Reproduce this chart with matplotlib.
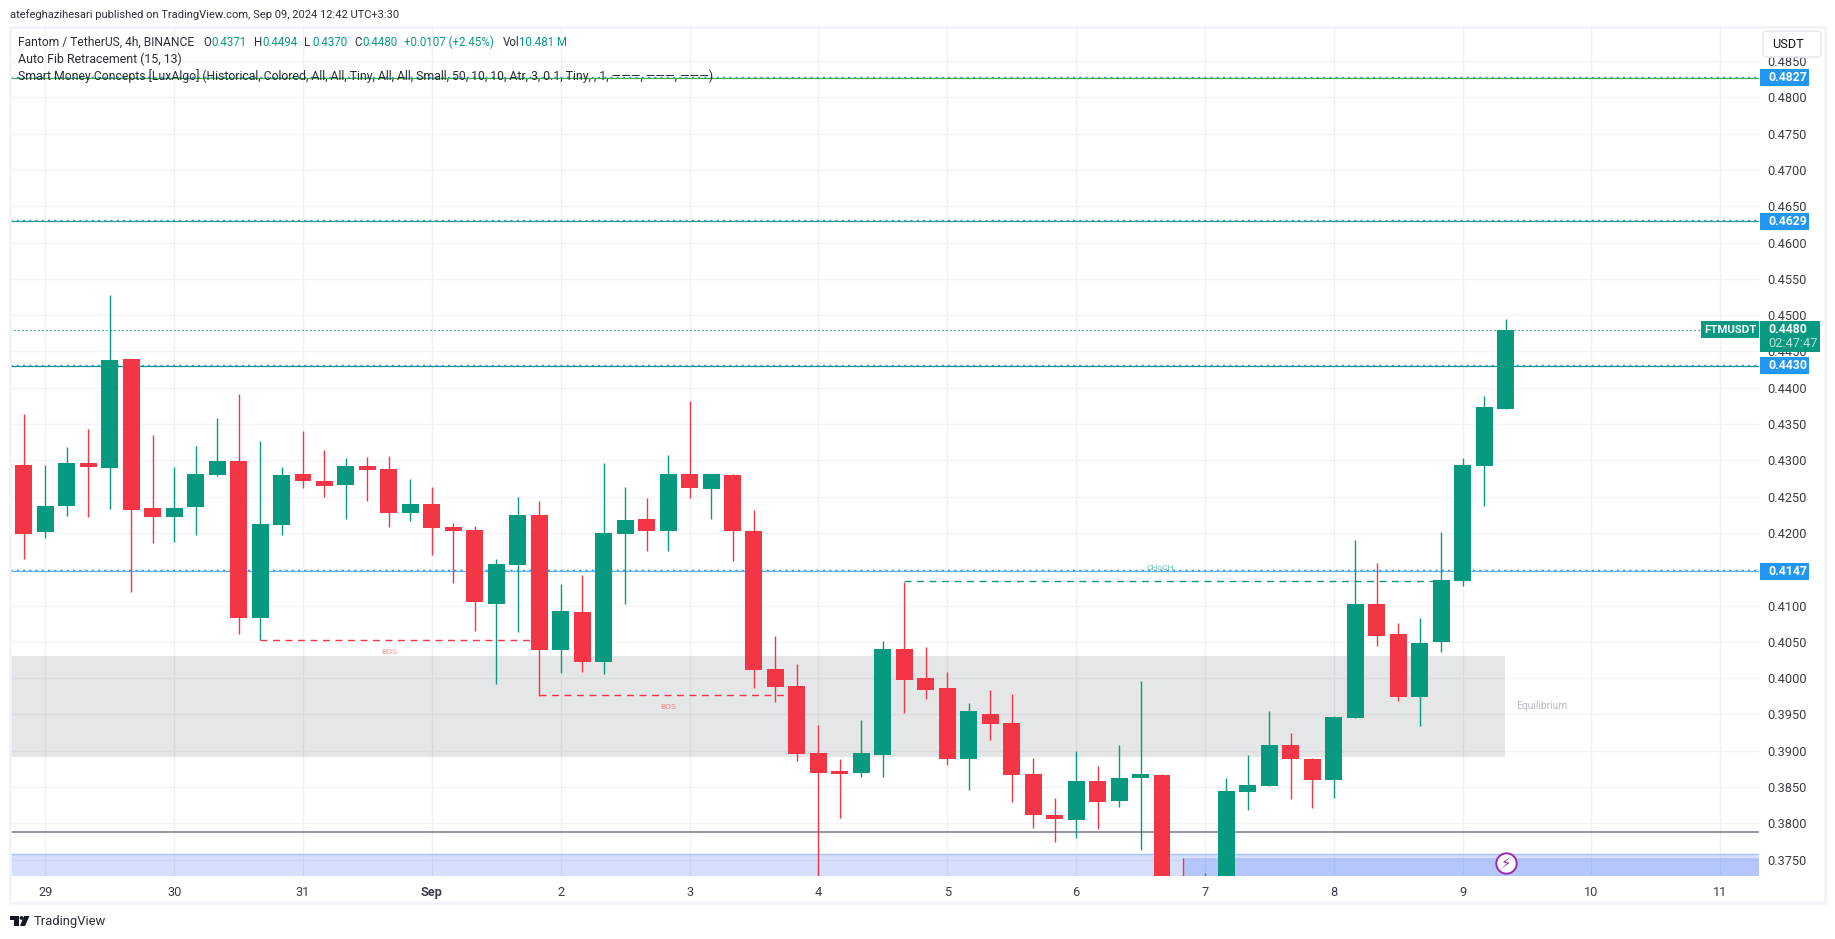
import matplotlib
matplotlib.use('Agg')
import matplotlib.pyplot as plt
from matplotlib.patches import Rectangle, FancyBboxPatch, Circle, Polygon

plt.rcParams['font.family'] = ['Roboto', 'DejaVu Sans']

# Candles (4h)
abrir = [.4294, .4201, .4237, .4296, .4289, .4440, .4234, .4222, .4236, .4280,
         .4299, .4083, .4211, .4281, .4271, .4266, .4292, .4288, .4227, .4240,
         .4208, .4204, .4102, .4156, .4225, .4039, .4091, .4022, .4199, .4219,
         .4203, .4281, .4261, .4280, .4203, .4013, .3989, .3897, .3872, .3869,
         .3894, .4040, .4000, .3986, .3889, .3951, .3938, .3868, .3811, .3805,
         .3858, .3831, .3862, .3867, .3660, .3630, .3680, .3843, .3852, .3908,
         .3889, .3860, .3945, .4102, .4061, .3974, .4050, .4134, .4292, .4371]
maximo = [.4364, .4294, .4318, .4343, .4528, .4440, .4335, .4291, .4320, .4358,
          .4391, .4327, .4291, .4340, .4314, .4303, .4305, .4306, .4274, .4263,
          .4214, .4210, .4164, .4249, .4244, .4130, .4142, .4296, .4263, .4248,
          .4307, .4382, .4281, .4281, .4232, .4058, .4019, .3935, .3889, .3942,
          .4051, .4133, .4043, .4008, .3966, .3984, .3978, .3890, .3835, .3900,
          .3879, .3908, .3996, .3868, .3752, .3732, .3863, .3894, .3955, .3924,
          .3890, .3948, .4190, .4159, .4076, .4083, .4201, .4303, .4388, .4494]
minimo = [.4164, .4193, .4223, .4222, .4233, .4119, .4186, .4187, .4197, .4278,
          .4061, .4052, .4197, .4262, .4249, .4219, .4244, .4208, .4216, .4170,
          .4131, .4065, .3992, .4064, .3976, .4007, .4008, .4006, .4102, .4175,
          .4175, .4248, .4219, .4161, .3986, .3967, .3886, .3700, .3807, .3864,
          .3864, .3952, .3971, .3880, .3846, .3915, .3829, .3794, .3774, .3780,
          .3792, .3822, .3763, .3640, .3610, .3600, .3660, .3818, .3852, .3834,
          .3821, .3835, .3945, .4044, .3969, .3934, .4036, .4127, .4237, .4370]
fechar = [.4198, .4237, .4296, .4291, .4438, .4232, .4222, .4234, .4281, .4299,
          .4083, .4212, .4280, .4271, .4265, .4292, .4287, .4227, .4240, .4207,
          .4203, .4105, .4157, .4225, .4039, .4092, .4022, .4200, .4218, .4203,
          .4281, .4262, .4281, .4203, .4011, .3988, .3895, .3869, .3868, .3897,
          .4040, .3997, .3984, .3889, .3955, .3937, .3867, .3811, .3806, .3858,
          .3829, .3862, .3868, .3660, .3630, .3680, .3845, .3853, .3908, .3889,
          .3860, .3946, .4102, .4058, .3974, .4049, .4135, .4294, .4373, .4480]

# Axis labels
dias_idx = [1, 7, 13, 19, 25, 31, 37, 43, 49, 55, 61, 67, 73, 79]
dias_txt = ['29', '30', '31', 'Sep', '2', '3', '4', '5', '6', '7', '8', '9', '10', '11']
precos = [.3750, .3800, .3850, .3900, .3950, .4000, .4050, .4100, .4150, .4200, .4250, .4300,
          .4350, .4400, .4450, .4500, .4550, .4600, .4650, .4700, .4750, .4800, .4850]
precos_txt = [f'{p:.4f}' for p in precos]

# Levels
niveis_fib = [.4827, .4629, .4430, .4147]
cores_fib = ['#4caf50', '#2e9e7a', '#138f8f', '#64b5f6']
ultimo = .4480
linha_cinza = .37875
equilibrio = (.38913, .40304)
zona_azul_topo = .37577
zona_azul2_topo = .37522
zona_azul2_idx = 54

# Structure breaks (start, end, price)
bos1 = (11, 24, .40520)
bos2 = (24, 36, .39763)
choch = (41, 66, .41332)

VERDE = '#089981'
VERMELHO = '#f23645'
AZUL = '#2196f3'
W, H = 1835, 939

fig = plt.figure(figsize=(W / 100, H / 100), dpi=100, facecolor='white')
ax = fig.add_axes([10 / W, 1 - 876 / H, (1759 - 10) / W, (876 - 28) / H])
ax.set_xlim(-0.644, 80.8)
ax.set_ylim(0.37274, 0.48955)
for s in ax.spines.values():
    s.set_visible(False)

ax.yaxis.tick_right()
ax.set_yticks(precos)
ax.set_yticklabels(precos_txt)
ax.set_xticks(dias_idx)
ax.set_xticklabels(dias_txt)
ax.tick_params(axis='y', length=0, pad=6, labelsize=9.2, labelcolor='#3a3d45')
ax.tick_params(axis='x', length=0, pad=7, labelsize=9.2, labelcolor='#3a3d45')
ax.get_xticklabels()[3].set_fontweight('bold')
ax.grid(True, axis='y', color='#f3f4f7', lw=1.0, zorder=0)
ax.grid(True, axis='x', color='#eff0f3', lw=1.0, zorder=0)
ax.set_axisbelow(True)

# Zones
ax.axhspan(equilibrio[0], equilibrio[1], xmin=0, xmax=(68.96 + 0.644) / 81.444,
           color='#787b86', alpha=0.19, lw=0, zorder=1)
ax.axhspan(0.37, zona_azul_topo, color='#2157f3', alpha=0.18, lw=0, zorder=1)
ax.axhline(zona_azul_topo, color='#a5c4fa', lw=1, zorder=1)
ax.add_patch(Rectangle((zona_azul2_idx, 0.37), 81 - zona_azul2_idx, zona_azul2_topo - 0.37,
                       color='#2157f3', alpha=0.18, lw=0, zorder=1))
ax.axhline(linha_cinza, color='#787b86', lw=1.1, zorder=2)

# Fib levels
for nivel, cor in zip(niveis_fib, cores_fib):
    ax.axhline(nivel, color=cor, lw=0.9, zorder=2)
    ax.axhline(nivel + 0.00016, color=AZUL, lw=1.0, ls=(0, (1.5, 3)), zorder=2)
ax.axhline(ultimo, color=VERDE, lw=0.9, ls=(0, (1, 2.2)), zorder=2)

# BOS / CHoCH
ax.plot(bos1[:2], [bos1[2]] * 2, color=VERMELHO, lw=1, ls=(0, (5, 4)), zorder=2)
ax.plot(bos2[:2], [bos2[2]] * 2, color=VERMELHO, lw=1, ls=(0, (5, 4)), zorder=2)
ax.plot(choch[:2], [choch[2]] * 2, color=VERDE, lw=1, ls=(0, (5, 4)), zorder=2)
ax.text(17, .40354, 'BOS', color=VERMELHO, alpha=0.55, fontsize=6, ha='center', va='center')
ax.text(30, .39597, 'BOS', color=VERMELHO, alpha=0.55, fontsize=6, ha='center', va='center')
ax.text(52.9, .41510, 'CHoCH', color=VERDE, alpha=0.6, fontsize=6, ha='center', va='center')
ax.text(69.5, .39610, 'Equilibrium', color='#b8bac2', fontsize=7.4, ha='left', va='center')

# Candles
x = list(range(len(abrir)))
cores = [VERDE if c >= o else VERMELHO for o, c in zip(abrir, fechar)]
ax.vlines(x, minimo, maximo, colors=cores, lw=1.0, zorder=3)
ax.bar(x, [abs(c - o) for o, c in zip(abrir, fechar)], bottom=[min(o, c) for o, c in zip(abrir, fechar)],
       width=0.79, color=cores, lw=0, zorder=4)

# Lightning marker
ax.scatter([x[-1]], [.37447], s=215, c='white', edgecolors='#9c27b0', linewidths=1.4, zorder=5)
ax.text(x[-1], .37447, '\u26a1', family=['DejaVu Sans'], color='#9c27b0', fontsize=10.5,
        ha='center', va='center', zorder=6)

# Frame, labels, header: drawn in pixels on top
ov = fig.add_axes([0, 0, 1, 1], facecolor='none')
ov.set_xlim(0, W)
ov.set_ylim(H, 0)
ov.axis('off')


def y_px(preco):
    return H - ax.transData.transform((0, preco))[1]


ov.add_patch(Rectangle((9.5, 27), 1825 - 9.5, 903 - 27, fill=False, ec='#f0f3fa', lw=1.8))
ov.add_patch(FancyBboxPatch((1763, 31), 58, 26, boxstyle='round,pad=0,rounding_size=4',
                            fc='white', ec='#e6e8f0', lw=1.2, zorder=5))
ov.text(1772, 44.5, 'USDT', color='#131722', fontsize=9.2, va='center', zorder=6)

for nivel in niveis_fib:
    yy = y_px(nivel)
    ov.add_patch(Rectangle((1760, yy - 8.5), 49, 17, fc=AZUL, lw=0))
    ov.text(1768, yy, f'{nivel:.4f}', color='white', fontsize=8.8, fontweight='bold', va='center')

yy = y_px(ultimo)
ov.add_patch(Rectangle((1701, yy - 8.5), 58, 17, fc=VERDE, lw=0))
ov.text(1730, yy, 'FTMUSDT', color='white', fontsize=8.2, fontweight='bold', ha='center', va='center')
ov.add_patch(Rectangle((1760, yy - 8.5), 60, 31, fc=VERDE, lw=0))
ov.text(1768, yy, f'{ultimo:.4f}', color='white', fontsize=8.8, fontweight='bold', va='center')
ov.text(1768, yy + 14, '02:47:47', color='#b9e3da', fontsize=9.2, va='center')

TXT = '#2a2e39'
ov.text(10, 15, 'atefeghazihesari published on TradingView.com, Sep 09, 2024 12:42 UTC+3:30',
        color=TXT, fontsize=8.0, va='center')
ov.text(18, 42, 'Fantom / TetherUS, 4h, BINANCE', color=TXT, fontsize=8.65, va='center')
for xx, txt, cor in [(203, 'O', TXT), (211, '0.4371', VERDE), (253.5, 'H', TXT), (262, '0.4494', VERDE),
                     (304, 'L', TXT), (312, '0.4370', VERDE), (354, 'C', TXT), (362, '0.4480', VERDE),
                     (404, '+0.0107 (+2.45%)', VERDE), (502.5, 'Vol', TXT), (519, '10.481 M', VERDE)]:
    ov.text(xx, 42, txt, color=cor, fontsize=8.3, va='center')
ov.text(18, 59, 'Auto Fib Retracement (15, 13)', color=TXT, fontsize=8.95, va='center')
ov.text(18, 76, 'Smart Money Concepts [LuxAlgo] (Historical, Colored, All, All, Tiny, All, All, Small, '
        '50, 10, 10, Atr, 3, 0.1, Tiny, , 1, \u2014\u2014\u2014, \u2014\u2014\u2014, \u2014\u2014\u2014)',
        color=TXT, fontsize=8.85, va='center')

# TradingView logo
ov.add_patch(Rectangle((10, 916), 9, 3.5, fc='#131722', lw=0))
ov.add_patch(Rectangle((14, 916), 4.5, 10, fc='#131722', lw=0))
ov.add_patch(Circle((21.5, 918), 1.9, fc='#131722', lw=0))
ov.add_patch(Polygon([(24, 916), (29.5, 916), (25, 926), (20, 926)], fc='#131722', lw=0))
ov.text(34, 921, 'TradingView', color='#2a2e39', fontsize=9.4, va='center')

fig.savefig('out.png', dpi=100)
